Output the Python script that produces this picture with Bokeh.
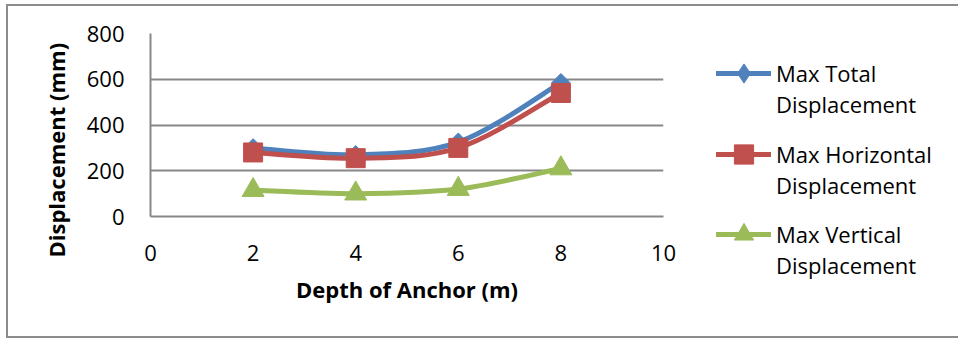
import numpy as np
from bokeh.plotting import figure
from bokeh.layouts import row, column
from bokeh.models import Range1d, FixedTicker, Legend, LegendItem, ColumnDataSource, Title
from bokeh.embed import file_html
from bokeh.resources import INLINE

# Anchor depth (m) and the three displacement series (mm)
depth = [2, 4, 6, 8]
max_total = [300, 270, 325, 585]
max_horizontal = [280, 255, 300, 540]
max_vertical = [115, 100, 120, 210]

x_ticks = [0, 2, 4, 6, 8, 10]
y_ticks = [0, 200, 400, 600, 800]

names = ["Max Total", "Max Horizontal", "Max Vertical"]
colors = ["#4F81BD", "#C0504D", "#9BBB59"]
markers = ["square", "square", "triangle"]
marker_angles = [np.pi / 4, 0, 0]
marker_sizes = [13, 19, 22]
legend_markers = ["diamond", "square", "triangle"]

FONT = "Open Sans"
GRID = "#878787"


def smooth_segments(xs, ys):
    """Cubic Bezier control points for a Catmull-Rom style smoothed line."""
    xs = np.asarray(xs, dtype=float)
    ys = np.asarray(ys, dtype=float)
    n = len(xs)
    seg = dict(x0=[], y0=[], x1=[], y1=[], cx0=[], cy0=[], cx1=[], cy1=[])
    for i in range(n - 1):
        a = max(i - 1, 0)
        d = min(i + 2, n - 1)
        seg["x0"].append(xs[i]); seg["y0"].append(ys[i])
        seg["x1"].append(xs[i + 1]); seg["y1"].append(ys[i + 1])
        seg["cx0"].append(xs[i] + (xs[i + 1] - xs[a]) / 6)
        seg["cy0"].append(ys[i] + (ys[i + 1] - ys[a]) / 6)
        seg["cx1"].append(xs[i + 1] - (xs[d] - xs[i]) / 6)
        seg["cy1"].append(ys[i + 1] - (ys[d] - ys[i]) / 6)
    return seg


def style_legend(leg, glyph_height):
    leg.padding = 0
    leg.margin = 0
    leg.border_line_color = None
    leg.background_fill_alpha = 0
    leg.glyph_width = 55
    leg.glyph_height = glyph_height
    leg.label_standoff = 5
    leg.spacing = 1
    leg.label_text_font = FONT
    leg.label_text_font_size = "22px"
    leg.label_text_color = "black"


# ---- main chart -------------------------------------------------------------
p = figure(
    width=692, height=330,
    x_range=Range1d(0, 10), y_range=Range1d(0, 800),
    output_backend="svg", toolbar_location=None,
    min_border_left=142, min_border_right=37,
    min_border_top=27, min_border_bottom=120,
)
p.outline_line_color = None
p.background_fill_color = "white"
p.border_fill_color = "white"

p.xaxis.ticker = FixedTicker(ticks=x_ticks)
p.yaxis.ticker = FixedTicker(ticks=y_ticks)
p.xaxis.axis_label = "Depth of Anchor (m)"
for ax in (p.xaxis[0], p.yaxis[0]):
    ax.axis_line_color = GRID
    ax.axis_line_width = 2
    ax.major_tick_line_color = None
    ax.minor_tick_line_color = None
    ax.major_tick_in = 0
    ax.major_tick_out = 0
    ax.minor_tick_in = 0
    ax.minor_tick_out = 0
    ax.major_label_text_font = FONT
    ax.major_label_text_font_size = "22px"
    ax.major_label_text_color = "black"
    ax.axis_label_text_font = FONT
    ax.axis_label_text_font_size = "22px"
    ax.axis_label_text_font_style = "bold"
    ax.axis_label_text_color = "black"
p.xaxis.major_label_standoff = 28
p.yaxis.major_label_standoff = 26
p.xaxis.axis_label_standoff = 10

# vertical title, set a little below the middle of the plot area
y_title = Title(text="Displacement (mm)", align="left", offset=-41, vertical_align="middle",
                standoff=24, text_font=FONT, text_font_size="22px",
                text_font_style="bold", text_color="black")
p.add_layout(y_title, "left")

p.xgrid.grid_line_color = None
p.ygrid.grid_line_color = GRID
p.ygrid.grid_line_width = 2

series = [max_total, max_horizontal, max_vertical]
sources = []
for vals, col, mk, ang, ms in zip(series, colors, markers, marker_angles, marker_sizes):
    seg = ColumnDataSource(smooth_segments(depth, vals))
    p.bezier(x0="x0", y0="y0", x1="x1", y1="y1", cx0="cx0", cy0="cy0", cx1="cx1", cy1="cy1",
             source=seg, line_color=col, line_width=5, line_cap="round")
    src = ColumnDataSource(dict(x=depth, y=vals))
    sources.append(src)
    p.scatter("x", "y", source=src, marker=mk, angle=ang, size=ms, fill_color=col, line_color=col)

# ---- legend panel -----------------------------------------------------------
lg = figure(
    width=260, height=330,
    x_range=Range1d(0, 1), y_range=Range1d(0, 1),
    x_axis_type=None, y_axis_type=None,
    output_backend="svg", toolbar_location=None, min_border=0,
)
lg.outline_line_color = None
lg.grid.visible = False

legend_bottoms = [217, 136, 56]
for name, src, col, lmk, vy in zip(names, sources, colors, legend_markers, legend_bottoms):
    sw_line = lg.line("x", "y", source=src, line_color=col, line_width=5, line_cap="round", visible=False)
    blank = lg.scatter("x", "y", source=src, fill_alpha=0, line_alpha=0, visible=False)
    leg = Legend(items=[LegendItem(label=name, renderers=[sw_line]),
                        LegendItem(label="Displacement", renderers=[blank])],
                 location=(16, vy))
    style_legend(leg, 20)
    lg.add_layout(leg, "center")

    # marker drawn over the middle of the line swatch
    sw_mark = lg.scatter("x", "y", source=src, marker=lmk, fill_color=col, line_color=col, visible=False)
    mleg = Legend(items=[LegendItem(label=" ", renderers=[sw_mark])], location=(16, vy + 22))
    style_legend(mleg, 48)
    lg.add_layout(mleg, "center")

layout = row(p, column(lg), margin=(4, 0, 0, 6), styles={"border": "2px solid #8c8c8c"})

open("out.html", "w").write(file_html(layout, INLINE))
